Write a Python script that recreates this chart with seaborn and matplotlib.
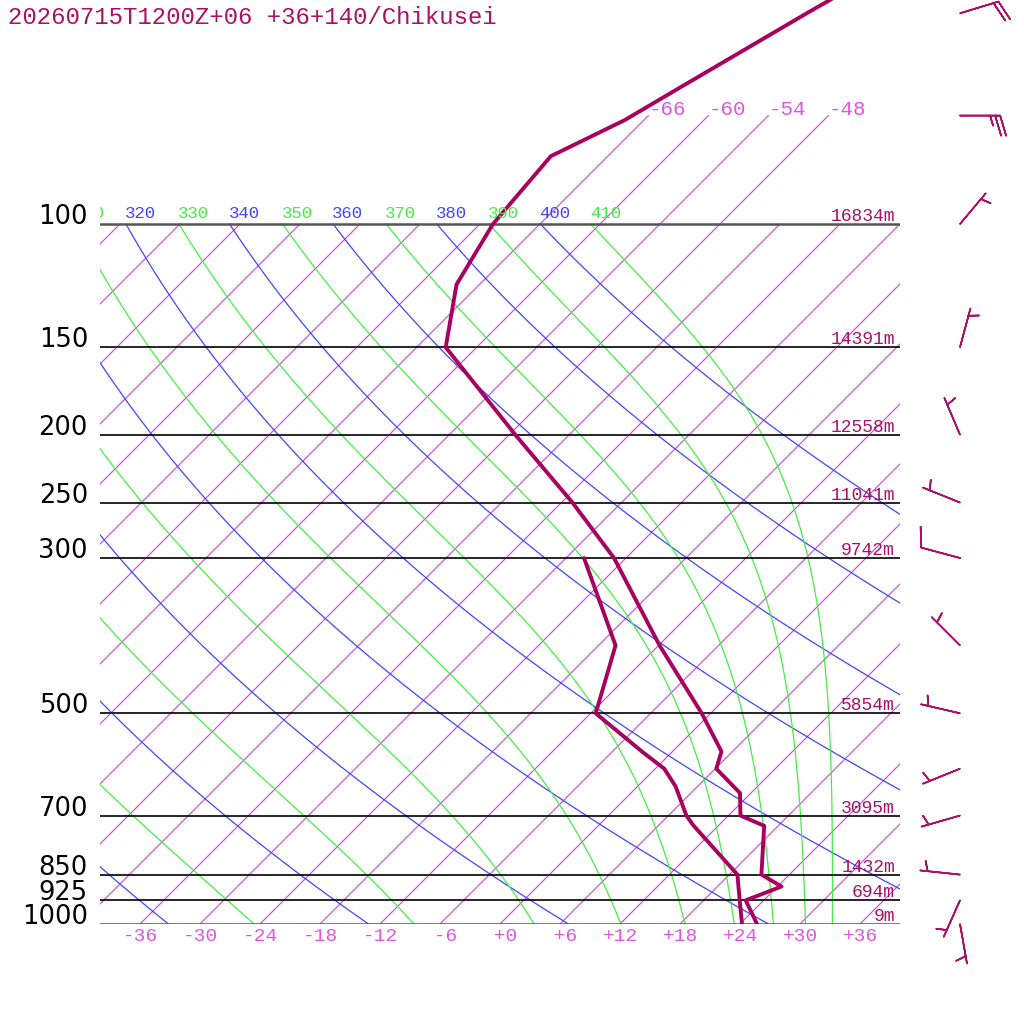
import numpy as np
import pandas as pd
import seaborn as sns
import matplotlib
matplotlib.use("Agg")
import matplotlib.pyplot as plt
from matplotlib.ticker import NullLocator

title = "20260715T1200Z+06 +36+140/Chikusei"

# temperature profile (hPa, degC)
temp_p = [1000, 925, 884, 850, 724, 700, 650, 600, 567, 500, 400, 300,
          250, 200, 150, 122, 100, 80, 71, 64, 50, 47]
temp_c = [25.7, 22.2, 24.4, 21.2, 16.6, 13.2, 10.9, 6.1, 4.9, -0.9, -11.9, -25.2,
          -34.9, -47.4, -63.1, -68.3, -70.7, -71.7, -67.9, -65.7, -60.4, -59.0]

# dew point profile
dewp_p = [1000, 925, 850, 722, 700, 636, 600, 570, 500, 400, 300]
dewp_c = [24.2, 21.6, 18.8, 9.4, 7.8, 3.8, 0.9, -2.7, -11.5, -16.3, -28.2]

# standard levels and geopotential heights
levels = [100, 150, 200, 250, 300, 500, 700, 850, 925, 1000]
heights = ["16834m", "14391m", "12558m", "11041m", "9742m",
           "5854m", "3095m", "1432m", "694m", "9m"]

# winds (direction from, speed)
wind_p = [50, 70, 100, 150, 200, 250, 300, 400, 500, 600, 700, 850, 925, 1000]
wind_dir = [73, 90, 40, 15, 337, 292, 285, 315, 283, 248, 254, 276, 204, 170]
wind_spd = [20, 25, 5, 5, 5, 5, 10, 5, 5, 5, 5, 5, 5, 5]

# background line sets
isotherms = list(range(-108, 37, 6))
isotherm_labels = [-66, -60, -54, -48]
dry_thetas = list(range(240, 401, 20))
moist_thetas = list(range(250, 411, 20))
theta_labels = list(range(310, 411, 10))
temp_ticks = list(range(-36, 37, 6))

PX_PER_LN = 304.0
SKEW = PX_PER_LN / 10.0
P_TOP = 1000 * np.exp(-924 / PX_PER_LN)

C_SND = "#A8005E"
C_TXT = "#AA1068"
C_ISO = "#D447DC"
C_ISO_TXT = "#E055E0"
C_DRY = "#4444FF"
C_MOIST = "#44EE44"


def skew_x(t, p):
    return np.asarray(t) + SKEW * np.log(1000.0 / np.asarray(p))


def dry_temp(theta, p):
    return theta * (p / 1000.0) ** 0.2857 - 273.15


def theta_e(tc, p):
    es = 6.112 * np.exp(17.67 * tc / (tc + 243.5))
    r = 0.622 * es / (p - es)
    tk = tc + 273.15
    th = tk * (1000.0 / p) ** (0.2854 * (1 - 0.28 * r))
    return th * np.exp((3.376 / tk - 0.00254) * r * 1000 * (1 + 0.81 * r))


def moist_temp(the, p):
    lo = np.full_like(p, -160.0)
    hi = np.full_like(p, 60.0)
    for _ in range(60):
        mid = 0.5 * (lo + hi)
        big = theta_e(mid, p) > the
        hi = np.where(big, mid, hi)
        lo = np.where(big, lo, mid)
    return 0.5 * (lo + hi)


sns.set_style("white")
plt.rcParams['font.family'] = ['DejaVu Sans']

fig = plt.figure(figsize=(10.24, 10.24), dpi=100)
ax = fig.add_axes([100 / 1024, 100 / 1024, 800 / 1024, 924 / 1024])
ax.set_yscale("log")
ax.set_ylim(1000, P_TOP)
ax.set_xlim(-40, 40)
for s in ax.spines.values():
    s.set_visible(False)

p_bg = np.geomspace(1000, 100, 300)

for t in isotherms:
    ax.plot(skew_x(t, p_bg), p_bg, color=C_ISO, lw=0.85)
p_ext = np.geomspace(100, 70, 20)
for t in isotherm_labels:
    ax.plot(skew_x(t, p_ext), p_ext, color=C_ISO, lw=0.85)
    ax.annotate(f"{t:d}", xy=(skew_x(t, 70), 70), xytext=(0, 1),
                textcoords="offset pixels", ha="left", va="baseline",
                color=C_ISO_TXT, fontsize=15, family="Liberation Mono")

for th in dry_thetas:
    ax.plot(skew_x(dry_temp(th, p_bg), p_bg), p_bg, color=C_DRY, lw=0.9)
for th in moist_thetas:
    ax.plot(skew_x(moist_temp(th, p_bg), p_bg), p_bg, color=C_MOIST, lw=0.9)

for th in theta_labels:
    p100 = np.array([100.0])
    if th % 20 == 0:
        x0 = skew_x(dry_temp(th, p100), p100)[0]
        col = C_DRY
    else:
        x0 = skew_x(moist_temp(th, p100), p100)[0]
        col = C_MOIST
    txt = ax.annotate(str(th), xy=(x0, 100), xytext=(-1, 6),
                      textcoords="offset pixels", ha="left", va="baseline",
                      color=col, fontsize=12.5, family="Liberation Mono",
                      annotation_clip=False)
    txt.set_clip_on(True)
    txt.set_clip_box(ax.bbox)

for lev in levels:
    edge = lev in (100, 1000)
    ax.plot([-40, 40], [lev, lev], color="#555555" if edge else "black",
            lw=1.8 if edge else 1.2)

yt = ax.get_yaxis_transform()
for lev, h in zip(levels, heights):
    ax.text(-0.015, lev, str(lev), transform=yt, ha="right", va="baseline",
            fontsize=18.5, color="black")
    ax.annotate(h, xy=(0.99375, lev), xycoords=yt, xytext=(0, 3),
                textcoords="offset pixels", ha="right", va="baseline",
                fontsize=13, color=C_TXT, family="Liberation Mono")

temp_df = pd.DataFrame({"x": skew_x(temp_c, temp_p), "p": temp_p})
dewp_df = pd.DataFrame({"x": skew_x(dewp_c, dewp_p), "p": dewp_p})
sns.lineplot(data=temp_df, x="x", y="p", sort=False, estimator=None,
             color=C_SND, lw=2.8, ax=ax)
sns.lineplot(data=dewp_df, x="x", y="p", sort=False, estimator=None,
             color=C_SND, lw=2.8, ax=ax)
ax.set_xlim(-40, 40)
ax.set_ylim(1000, P_TOP)
ax.set_xlabel("")
ax.set_ylabel("")
ax.set_yticks([])
ax.yaxis.set_minor_locator(NullLocator())
ax.set_xticks(temp_ticks)
ax.set_xticklabels([f"{t:+3d}" for t in temp_ticks], family="Liberation Mono")
ax.tick_params(axis="x", length=0, pad=3, labelsize=14, labelcolor=C_ISO_TXT)

# wind barbs column
ax2 = fig.add_axes([900 / 1024, 100 / 1024, 124 / 1024, 924 / 1024])
ax2.set_yscale("log")
ax2.set_ylim(1000, P_TOP)
ax2.set_xlim(0, 124)
ax2.axis("off")
rad = np.deg2rad(wind_dir)
u = -np.array(wind_spd) * np.sin(rad)
v = -np.array(wind_spd) * np.cos(rad)
ax2.barbs(np.full(len(wind_p), 60.0), wind_p, u, v, length=7.6,
          sizes=dict(height=0.5, spacing=0.125, width=0.3),
          color=C_TXT, linewidth=1.2, clip_on=False)

fig.text(8 / 1024, 1 - 17 / 1024, title, ha="left", va="center",
         fontsize=17.3, color=C_TXT, family="Liberation Mono")

fig.savefig("out.png", dpi=100)
